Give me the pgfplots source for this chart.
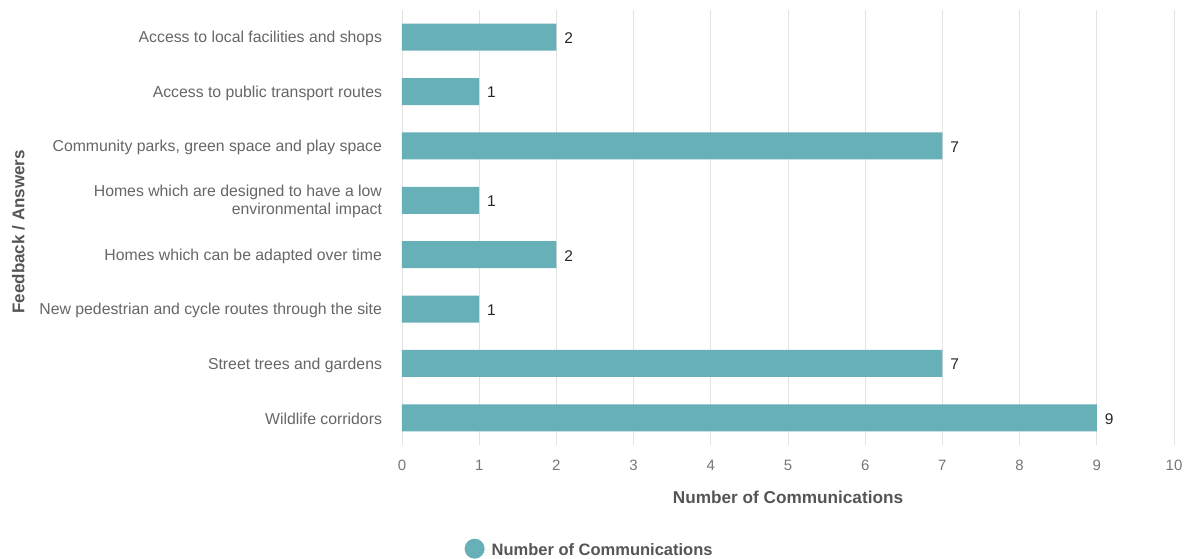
\documentclass[border=0pt]{standalone}
\usepackage{pgfplots}
\pgfplotsset{compat=1.18}
\usepackage{fontspec}
\setmainfont{Liberation Sans}
\definecolor{bar}{HTML}{67B0B8}
\definecolor{lbl}{HTML}{666666}
\definecolor{tick}{HTML}{777777}
\definecolor{grd}{HTML}{E3E3E3}
\definecolor{ttl}{HTML}{555555}
\begin{document}
\fontsize{14.5}{17}\selectfont
\begin{tikzpicture}[x=1pt,y=1pt]
\useasboundingbox (0,0) rectangle (1192,559);
\begin{axis}[
  scale only axis,
  at={(402pt,114pt)}, anchor=south west,
  width=772pt, height=435pt,
  xbar, bar width=27pt,
  xmin=0, xmax=10,
  ymin=-0.5, ymax=7.5,
  xtick={0,...,10},
  ytick={0,...,7},
  yticklabels={{Wildlife corridors},{Street trees and gardens},{New pedestrian and cycle routes through the site},{Homes which can be adapted over time},{Homes which are designed to have a low\\environmental impact},{Community parks, green space and play space},{Access to public transport routes},{Access to local facilities and shops}},
  yticklabel style={align=right, font=\fontsize{15.8}{18}\selectfont, text=lbl, xshift=-15pt, yshift=-1.5pt},
  xticklabel style={font=\fontsize{15}{17}\selectfont, text=tick, yshift=-10pt},
  /pgf/number format/assume math mode=true,
  axis line style={draw=none},
  major tick length=0pt,
  xmajorgrids, grid style={grd, line width=0.8pt},
  xlabel={\textbf{Number of Communications}},
  xlabel style={font=\fontsize{17.2}{20}\selectfont, text=ttl, at={(axis description cs:0.5,-0.12)}, anchor=center},
  ylabel={\textbf{Feedback / Answers}},
  ylabel style={font=\fontsize{17}{20}\selectfont, text=ttl, at={(axis description cs:-0.497,0.49)}, anchor=center, rotate=0},
  nodes near coords,
  nodes near coords style={font=\fontsize{15.5}{17}\selectfont, text=black!85, anchor=west, xshift=3pt, yshift=-1pt},
  legend style={at={(axis description cs:0.243,-0.239)}, anchor=center, draw=none, fill=none, font=\fontsize{16.5}{18}\selectfont\bfseries, text=ttl},
]
\addplot[fill=bar, draw=none, legend image code/.code={\fill[bar] (0,1.5pt) circle (10pt);\path (-10pt,0) -- (15pt,0);}] coordinates {(9,0) (7,1) (1,2) (2,3) (1,4) (7,5) (1,6) (2,7)};
\addlegendentry{Number of Communications}
\end{axis}
\end{tikzpicture}
\end{document}
